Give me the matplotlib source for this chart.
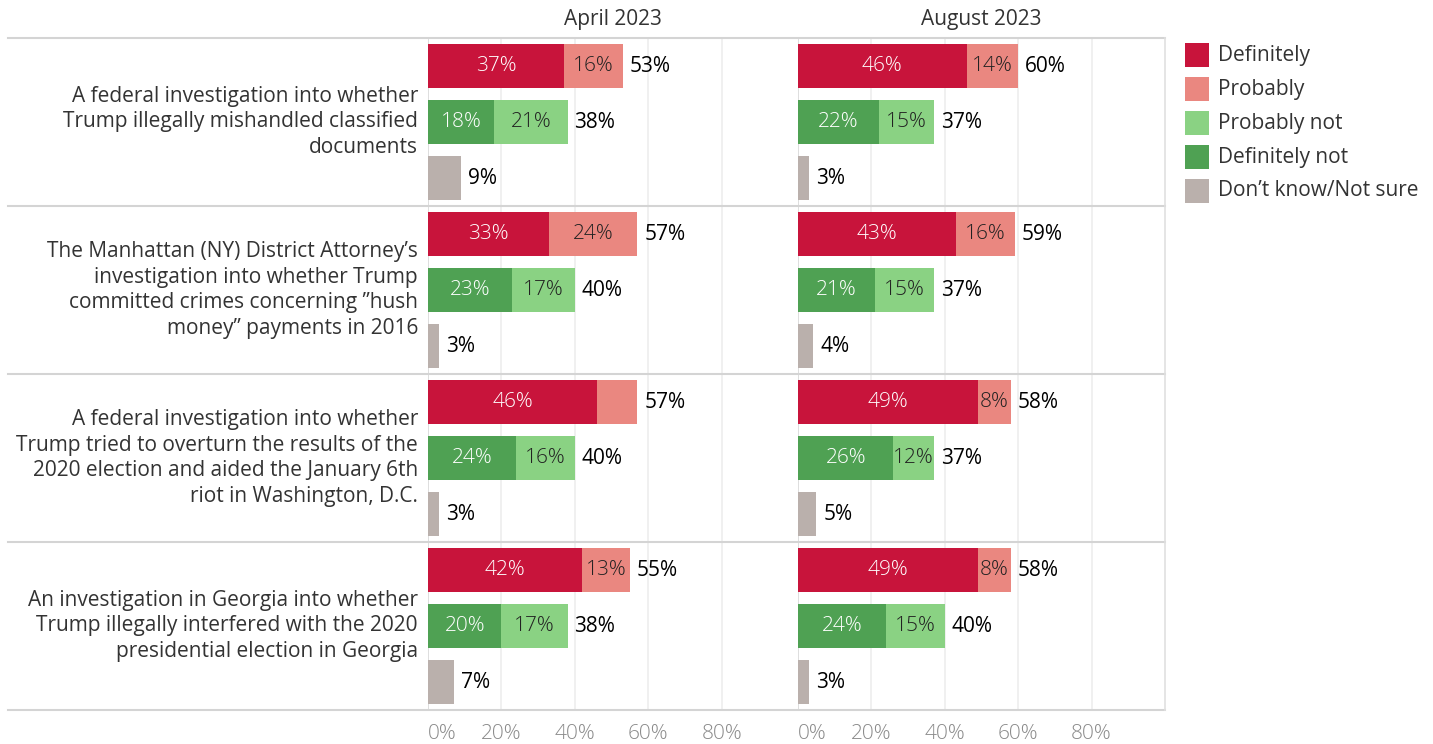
import matplotlib.pyplot as plt
from matplotlib.patches import Rectangle
from matplotlib.lines import Line2D

plt.rcParams["font.family"] = ["Open Sans", "DejaVu Sans"]

# ---- data ---------------------------------------------------------------
questions = [
    "A federal investigation into whether\nTrump illegally mishandled classified\ndocuments",
    "The Manhattan (NY) District Attorney\u2019s\ninvestigation into whether Trump\ncommitted crimes concerning \u201dhush\nmoney\u201d payments in 2016",
    "A federal investigation into whether\nTrump tried to overturn the results of the\n2020 election and aided the January 6th\nriot in Washington, D.C.",
    "An investigation in Georgia into whether\nTrump illegally interfered with the 2020\npresidential election in Georgia",
]
periods = ["April 2023", "August 2023"]

definitely = {"April 2023": [37, 33, 46, 42], "August 2023": [46, 43, 49, 49]}
probably = {"April 2023": [16, 24, None, 13], "August 2023": [14, 16, 8, 8]}  # None: label hidden
yes_total = {"April 2023": [53, 57, 57, 55], "August 2023": [60, 59, 58, 58]}
definitely_not = {"April 2023": [18, 23, 24, 20], "August 2023": [22, 21, 26, 24]}
probably_not = {"April 2023": [21, 17, 16, 17], "August 2023": [15, 15, 12, 15]}
no_total = {"April 2023": [38, 40, 40, 38], "August 2023": [37, 37, 37, 40]}
dont_know = {"April 2023": [9, 3, 3, 7], "August 2023": [3, 4, 5, 3]}

legend_labels = ["Definitely", "Probably", "Probably not", "Definitely not",
                 "Don\u2019t know/Not sure"]
colors = {
    "Definitely": "#c8143b",
    "Probably": "#ea8780",
    "Probably not": "#8ad283",
    "Definitely not": "#4fa153",
    "Don\u2019t know/Not sure": "#bab0ac",
}

W, H = 1433, 744
fig = plt.figure(figsize=(W / 100, H / 100), dpi=100)
fig.patch.set_facecolor("white")


def fx(x):
    return x / W


def fy(y):
    return 1 - y / H


top, bottom = 38, 710
panels = [(428, 797, 100.5), (798, 1165, 100.0)]
bar_h = 0.77
fs = 15

for (x0, x1, xmax), period in zip(panels, periods):
    ax = fig.add_axes([fx(x0), fy(bottom), fx(x1 - x0), (bottom - top) / H])
    ax.set_xlim(0, xmax)
    ax.set_ylim(12, 0)
    for s in ax.spines.values():
        s.set_visible(False)
    ax.set_yticks([])
    for g in [0, 20, 40, 60, 80]:
        ax.axvline(g, color="#d8d8d8" if g == 0 else "#ededed", lw=1.2, zorder=0)
    ax.set_xticks([0, 20, 40, 60, 80])
    ax.set_xticklabels(["0%", "20%", "40%", "60%", "80%"])
    ax.tick_params(axis="x", length=0, pad=10, labelsize=fs, labelcolor="#8a8a8a")
    ax.get_xticklabels()[0].set_ha("left")
    ax.get_xticklabels()[0].set_x(1.0)
    for lbl in ax.get_xticklabels():
        lbl.set_fontweight("light")

    for i in range(len(questions)):
        y_yes, y_no, y_dk = 3 * i + 0.5, 3 * i + 1.5, 3 * i + 2.5
        d, p, yt = definitely[period][i], probably[period][i], yes_total[period][i]
        dn, pn, nt = definitely_not[period][i], probably_not[period][i], no_total[period][i]
        dk = dont_know[period][i]

        # stacked: "probably" fills the gap from definitely to the rounded total
        ax.barh(y_yes, yt, height=bar_h, color=colors["Probably"], lw=0)
        ax.barh(y_yes, d, height=bar_h, color=colors["Definitely"], lw=0)
        ax.barh(y_no, nt, height=bar_h, color=colors["Probably not"], lw=0)
        ax.barh(y_no, dn, height=bar_h, color=colors["Definitely not"], lw=0)
        ax.barh(y_dk, dk, height=bar_h, color=colors["Don\u2019t know/Not sure"], lw=0)

        ax.text(d / 2, y_yes, f"{d}%", ha="center", va="center", color="white",
                fontsize=fs, fontweight="light")
        if p is not None:
            ax.text((d + yt) / 2, y_yes, f"{p}%", ha="center", va="center",
                    color="#222222", fontsize=fs, fontweight="light")
        ax.text(yt + 1.9, y_yes, f"{yt}%", ha="left", va="center", color="black",
                fontsize=fs)

        ax.text(dn / 2, y_no, f"{dn}%", ha="center", va="center", color="white",
                fontsize=fs, fontweight="light")
        ax.text((dn + nt) / 2, y_no, f"{pn}%", ha="center", va="center",
                color="#222222", fontsize=fs, fontweight="light")
        ax.text(nt + 1.9, y_no, f"{nt}%", ha="left", va="center", color="black",
                fontsize=fs)

        ax.text(dk + 2.0, y_dk, f"{dk}%", ha="left", va="center", color="black",
                fontsize=fs)

    fig.text(fx((x0 + x1) / 2), fy(20), period, ha="center", va="center",
             fontsize=fs, color="#333333")

# row separators and frame lines
row_h = (bottom - top) / 4
for k in range(5):
    y = top + k * row_h
    fig.add_artist(Line2D([fx(8), fx(1165)], [fy(y), fy(y)], color="#d4d4d4",
                          lw=1.5, transform=fig.transFigure))
fig.add_artist(Line2D([fx(1165), fx(1165)], [fy(top), fy(bottom)], color="#e0e0e0",
                      lw=1.2, transform=fig.transFigure))

# question labels
for i, q in enumerate(questions):
    yc = top + (i + 0.5) * row_h
    fig.text(fx(418), fy(yc), q, ha="right", va="center", fontsize=fs,
             color="#333333", linespacing=1.3)

# legend
for k, name in enumerate(legend_labels):
    yc = 55 + 34 * k
    fig.add_artist(Rectangle((fx(1185), fy(yc + 12)), fx(24), 24 / H,
                             color=colors[name], transform=fig.transFigure, lw=0))
    fig.text(fx(1218), fy(yc), name, ha="left", va="center", fontsize=fs,
             color="#333333")

fig.savefig("out.png", dpi=100, facecolor="white")
